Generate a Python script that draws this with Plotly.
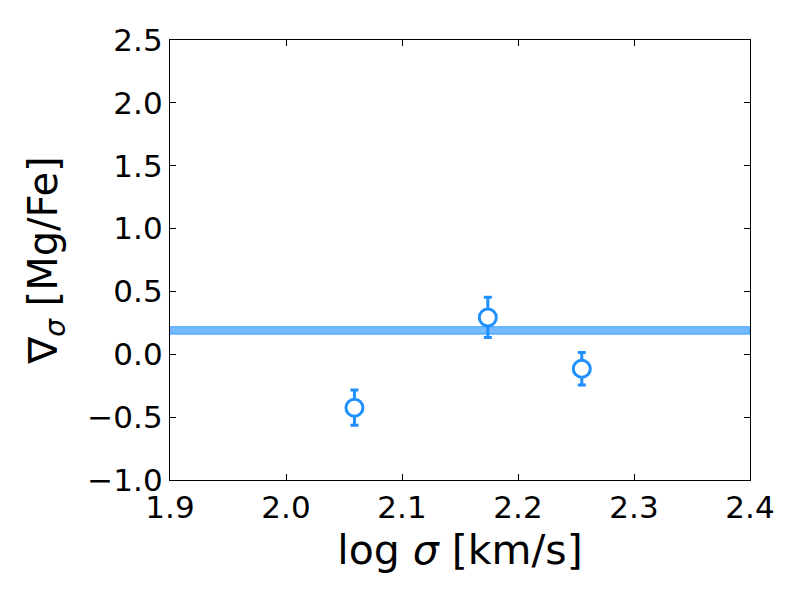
import plotly.graph_objects as go

# data
log_sigma = [2.059, 2.174, 2.255]
grad_mgfe = [-0.425, 0.293, -0.115]
grad_err = [0.14, 0.16, 0.13]
band_x = [1.9, 2.4]
band_low = [0.16, 0.16]
band_high = [0.22, 0.22]
x_ticks = [1.9, 2.0, 2.1, 2.2, 2.3, 2.4]
y_ticks = [-1.0, -0.5, 0.0, 0.5, 1.0, 1.5, 2.0, 2.5]

blue = "#1E90FF"

fig = go.Figure()
fig.add_trace(go.Scatter(
    x=band_x + band_x[::-1], y=band_high + band_low[::-1],
    fill="toself", fillcolor="rgba(30,144,255,0.62)",
    line=dict(color="rgba(30,144,255,0.7)", width=1),
    mode="lines", hoverinfo="skip", showlegend=False))
fig.add_trace(go.Scatter(
    x=log_sigma, y=grad_mgfe, mode="markers",
    marker=dict(size=17, color="white", line=dict(color=blue, width=3)),
    error_y=dict(type="data", array=grad_err, visible=True,
                 color=blue, thickness=3, width=4),
    showlegend=False))

font = "DejaVu Sans, sans-serif"
axis_common = dict(
    showline=True, linecolor="black", linewidth=1.3, mirror="ticks",
    ticks="inside", ticklen=6, tickwidth=1, tickcolor="black",
    showgrid=False, zeroline=False,
    tickfont=dict(family=font, size=31, color="black"),
)
fig.update_xaxes(range=[1.9, 2.4], tickvals=x_ticks,
                 ticktext=[f"{v:.1f}" for v in x_ticks],
                 title=dict(text="log <i>σ</i> [km/s]",
                            font=dict(family=font, size=41, color="black"),
                            standoff=10),
                 **axis_common)
fig.update_yaxes(range=[-1.0, 2.5], tickvals=y_ticks,
                 ticktext=[f"{v:.1f}".replace("-", "−") for v in y_ticks],
                 title=dict(text="∇<sub><i>σ</i></sub> [Mg/Fe]",
                            font=dict(family=font, size=40, color="black"),
                            standoff=17),
                 **axis_common)
fig.update_layout(
    width=800, height=600,
    margin=dict(l=162, r=58, t=32, b=128),
    plot_bgcolor="white", paper_bgcolor="white",
)
fig.write_html("out.html")
